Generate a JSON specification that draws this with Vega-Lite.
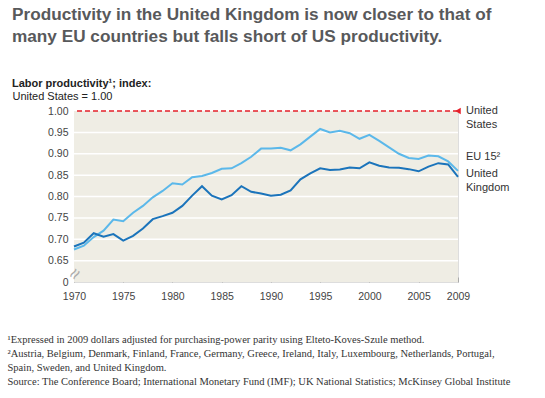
{
  "$schema": "https://vega.github.io/schema/vega-lite/v6.json",
  "width": 384,
  "height": 171,
  "autosize": {"type": "none"},
  "padding": {"left": 74, "top": 111, "right": 87, "bottom": 116},
  "config": {
    "font": "Liberation Sans",
    "axisX": {
      "domain": false, "grid": false, "ticks": true, "tickSize": -5, "tickColor": "#aaaaaa", "zindex": 1,
      "labelPadding": 14, "labelFlush": false, "labelOverlap": false, "labelFontSize": 10.5,
      "labelColor": "#444", "labelFont": "Liberation Sans",
      "titleFont": "Liberation Serif", "titleFontSize": 10.5, "titleFontWeight": "normal",
      "titleColor": "#333", "titleAlign": "left", "titleAnchor": "start", "titleBaseline": "alphabetic",
      "titleLineHeight": 14, "titleX": -67, "titleY": 60
    },
    "axisY": {
      "domain": false, "ticks": false, "grid": false,
      "labelPadding": 6, "labelOverlap": false, "labelBound": false, "labelFontSize": 10.5,
      "labelColor": "#444", "labelFont": "Liberation Sans",
      "titleFont": "Liberation Sans", "titleFontSize": 11, "titleFontWeight": "normal", "titleColor": "#222",
      "titleAngle": 0, "titleAlign": "left", "titleBaseline": "alphabetic", "titleX": -62, "titleY": -12
    }
  },
  "title": {
    "text": ["Productivity in the United Kingdom is now closer to that of", "many EU countries but falls short of US productivity."],
    "subtitle": "Labor productivity\u00b9; index:",
    "anchor": "start",
    "frame": "group",
    "dx": -62,
    "fontSize": 17.2,
    "fontWeight": "bold",
    "color": "#58595b",
    "lineHeight": 22,
    "subtitleFontSize": 11,
    "subtitleFontWeight": "bold",
    "subtitleColor": "#222",
    "subtitlePadding": 33,
    "offset": 1
  },
  "datasets": {
    "gridlines": [
      {"tick": 0.65}, {"tick": 0.70}, {"tick": 0.75}, {"tick": 0.80},
      {"tick": 0.85}, {"tick": 0.90}, {"tick": 0.95}
    ],
    "series": [
      {"year": 1970, "series": "EU 15", "value": 0.676},
      {"year": 1971, "series": "EU 15", "value": 0.685},
      {"year": 1972, "series": "EU 15", "value": 0.705},
      {"year": 1973, "series": "EU 15", "value": 0.720},
      {"year": 1974, "series": "EU 15", "value": 0.746},
      {"year": 1975, "series": "EU 15", "value": 0.742},
      {"year": 1976, "series": "EU 15", "value": 0.762},
      {"year": 1977, "series": "EU 15", "value": 0.778},
      {"year": 1978, "series": "EU 15", "value": 0.798},
      {"year": 1979, "series": "EU 15", "value": 0.813},
      {"year": 1980, "series": "EU 15", "value": 0.831},
      {"year": 1981, "series": "EU 15", "value": 0.828},
      {"year": 1982, "series": "EU 15", "value": 0.845},
      {"year": 1983, "series": "EU 15", "value": 0.848},
      {"year": 1984, "series": "EU 15", "value": 0.855},
      {"year": 1985, "series": "EU 15", "value": 0.865},
      {"year": 1986, "series": "EU 15", "value": 0.866},
      {"year": 1987, "series": "EU 15", "value": 0.878},
      {"year": 1988, "series": "EU 15", "value": 0.893},
      {"year": 1989, "series": "EU 15", "value": 0.912},
      {"year": 1990, "series": "EU 15", "value": 0.912},
      {"year": 1991, "series": "EU 15", "value": 0.914},
      {"year": 1992, "series": "EU 15", "value": 0.908},
      {"year": 1993, "series": "EU 15", "value": 0.922},
      {"year": 1994, "series": "EU 15", "value": 0.940},
      {"year": 1995, "series": "EU 15", "value": 0.958},
      {"year": 1996, "series": "EU 15", "value": 0.950},
      {"year": 1997, "series": "EU 15", "value": 0.954},
      {"year": 1998, "series": "EU 15", "value": 0.948},
      {"year": 1999, "series": "EU 15", "value": 0.935},
      {"year": 2000, "series": "EU 15", "value": 0.944},
      {"year": 2001, "series": "EU 15", "value": 0.930},
      {"year": 2002, "series": "EU 15", "value": 0.915},
      {"year": 2003, "series": "EU 15", "value": 0.900},
      {"year": 2004, "series": "EU 15", "value": 0.890},
      {"year": 2005, "series": "EU 15", "value": 0.888},
      {"year": 2006, "series": "EU 15", "value": 0.896},
      {"year": 2007, "series": "EU 15", "value": 0.894},
      {"year": 2008, "series": "EU 15", "value": 0.882},
      {"year": 2009, "series": "EU 15", "value": 0.860},
      {"year": 1970, "series": "United Kingdom", "value": 0.683},
      {"year": 1971, "series": "United Kingdom", "value": 0.692},
      {"year": 1972, "series": "United Kingdom", "value": 0.714},
      {"year": 1973, "series": "United Kingdom", "value": 0.706},
      {"year": 1974, "series": "United Kingdom", "value": 0.712},
      {"year": 1975, "series": "United Kingdom", "value": 0.697},
      {"year": 1976, "series": "United Kingdom", "value": 0.708},
      {"year": 1977, "series": "United Kingdom", "value": 0.725},
      {"year": 1978, "series": "United Kingdom", "value": 0.747},
      {"year": 1979, "series": "United Kingdom", "value": 0.754},
      {"year": 1980, "series": "United Kingdom", "value": 0.762},
      {"year": 1981, "series": "United Kingdom", "value": 0.778},
      {"year": 1982, "series": "United Kingdom", "value": 0.802},
      {"year": 1983, "series": "United Kingdom", "value": 0.824},
      {"year": 1984, "series": "United Kingdom", "value": 0.802},
      {"year": 1985, "series": "United Kingdom", "value": 0.793},
      {"year": 1986, "series": "United Kingdom", "value": 0.803},
      {"year": 1987, "series": "United Kingdom", "value": 0.824},
      {"year": 1988, "series": "United Kingdom", "value": 0.811},
      {"year": 1989, "series": "United Kingdom", "value": 0.807},
      {"year": 1990, "series": "United Kingdom", "value": 0.802},
      {"year": 1991, "series": "United Kingdom", "value": 0.804},
      {"year": 1992, "series": "United Kingdom", "value": 0.814},
      {"year": 1993, "series": "United Kingdom", "value": 0.840},
      {"year": 1994, "series": "United Kingdom", "value": 0.854},
      {"year": 1995, "series": "United Kingdom", "value": 0.866},
      {"year": 1996, "series": "United Kingdom", "value": 0.862},
      {"year": 1997, "series": "United Kingdom", "value": 0.863},
      {"year": 1998, "series": "United Kingdom", "value": 0.868},
      {"year": 1999, "series": "United Kingdom", "value": 0.866},
      {"year": 2000, "series": "United Kingdom", "value": 0.880},
      {"year": 2001, "series": "United Kingdom", "value": 0.872},
      {"year": 2002, "series": "United Kingdom", "value": 0.868},
      {"year": 2003, "series": "United Kingdom", "value": 0.867},
      {"year": 2004, "series": "United Kingdom", "value": 0.864},
      {"year": 2005, "series": "United Kingdom", "value": 0.859},
      {"year": 2006, "series": "United Kingdom", "value": 0.870},
      {"year": 2007, "series": "United Kingdom", "value": 0.878},
      {"year": 2008, "series": "United Kingdom", "value": 0.875},
      {"year": 2009, "series": "United Kingdom", "value": 0.846}
    ]
  },
  "layer": [
    {
      "data": {"values": [{}]},
      "mark": {"type": "rect", "fill": "#efede4"},
      "encoding": {
        "x": {
          "datum": 1970, "type": "quantitative",
          "scale": {"domain": [1970, 2009], "nice": false, "zero": false},
          "axis": {
            "values": [1970, 1975, 1980, 1985, 1990, 1995, 2000, 2005, 2009],
            "tickCount": 10,
            "format": "d",
            "title": [
              "\u00b9Expressed in 2009 dollars adjusted for purchasing-power parity using Elteto-Koves-Szule method.",
              "\u00b2Austria, Belgium, Denmark, Finland, France, Germany, Greece, Ireland, Italy, Luxembourg, Netherlands, Portugal,",
              "\u00a0\u00a0Spain, Sweden, and United Kingdom.",
              "\u00a0\u00a0Source: The Conference Board; International Monetary Fund (IMF); UK National Statistics; McKinsey Global Institute"
            ]
          }
        },
        "x2": {"datum": 2009},
        "y": {
          "datum": 0.6, "type": "quantitative",
          "scale": {"domain": [0.6, 1.0], "nice": false, "zero": false},
          "axis": {
            "values": [0.6, 0.65, 0.7, 0.75, 0.8, 0.85, 0.9, 0.95, 1.0],
            "tickCount": 10,
            "labelExpr": "datum.value < 0.61 ? '0' : format(datum.value, '.2f')",
            "title": "United States = 1.00"
          }
        },
        "y2": {"datum": 1.0}
      }
    },
    {
      "data": {"name": "gridlines"},
      "mark": {"type": "rule", "color": "white", "strokeWidth": 1.5},
      "encoding": {"y": {"field": "tick", "type": "quantitative"}}
    },
    {
      "data": {"name": "series"},
      "mark": {"type": "line", "strokeWidth": 2},
      "encoding": {
        "x": {"field": "year", "type": "quantitative"},
        "y": {"field": "value", "type": "quantitative"},
        "color": {
          "field": "series", "type": "nominal",
          "scale": {"domain": ["EU 15", "United Kingdom"], "range": ["#5bb8ea", "#1b74bb"]},
          "legend": null
        }
      }
    },
    {
      "data": {"values": [{}]},
      "mark": {"type": "rule", "color": "#e5202a", "strokeWidth": 1.5, "strokeDash": [5, 3]},
      "encoding": {"y": {"datum": 1.0}}
    },
    {
      "data": {"values": [{}]},
      "mark": {"type": "point", "shape": "triangle-left", "filled": true, "color": "#e5202a", "size": 40, "opacity": 1},
      "encoding": {"x": {"datum": 2009}, "y": {"datum": 1.0}}
    },
    {
      "data": {"values": [{}]},
      "mark": {"type": "text", "text": "\u2248", "angle": -55, "color": "#aaaaaa", "fontSize": 19, "dx": 2},
      "encoding": {"x": {"datum": 1970}, "y": {"datum": 0.615}}
    },
    {
      "data": {"values": [{}]},
      "mark": {"type": "text", "text": ["United", "States"], "align": "left", "baseline": "alphabetic", "dx": 8, "dy": 3, "fontSize": 11, "lineHeight": 13.5, "color": "#333"},
      "encoding": {"x": {"datum": 2009}, "y": {"datum": 1.0}}
    },
    {
      "data": {"values": [{}]},
      "mark": {"type": "text", "text": "EU 15\u00b2", "align": "left", "baseline": "alphabetic", "dx": 8, "fontSize": 11, "color": "#333"},
      "encoding": {"x": {"datum": 2009}, "y": {"datum": 0.885}}
    },
    {
      "data": {"values": [{}]},
      "mark": {"type": "text", "text": ["United", "Kingdom"], "align": "left", "baseline": "alphabetic", "dx": 8, "fontSize": 11, "lineHeight": 14, "color": "#333"},
      "encoding": {"x": {"datum": 2009}, "y": {"datum": 0.846}}
    }
  ]
}
